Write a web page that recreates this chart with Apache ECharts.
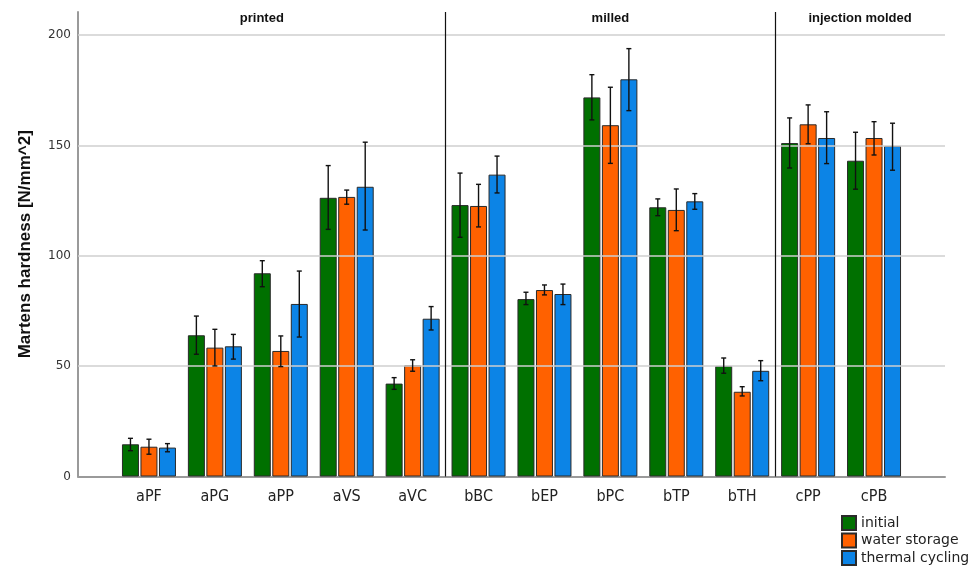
<!DOCTYPE html>
<html>
<head>
<meta charset="utf-8">
<script src="https://cdn.jsdelivr.net/npm/echarts@6/dist/echarts.min.js"></script>
<style>html,body{margin:0;padding:0;background:#fff}#c{width:970px;height:570px}</style>
</head>
<body>
<div id="c"></div>
<script>
var categories = ['aPF','aPG','aPP','aVS','aVC','bBC','bEP','bPC','bTP','bTH','cPP','cPB'];
var seriesNames = ['initial','water storage','thermal cycling'];
var initial     = [14.6, 64.0, 92.1, 126.3, 42.1, 123.0, 80.4, 171.8, 122.0, 50.1, 151.1, 143.1];
var initialLow  = [11.7, 55.4, 86.0, 112.0, 39.5, 108.4, 77.9, 161.6, 118.2, 46.8, 139.8, 130.2];
var initialHigh = [17.3, 72.7, 97.8, 140.9, 44.8, 137.5, 83.5, 182.1, 125.8, 53.7, 162.5, 156.0];
var water       = [13.5, 58.4, 56.9, 126.7, 50.4, 122.6, 84.5, 159.2, 120.8, 38.4, 159.6, 153.4];
var waterLow    = [10.1, 50.1, 49.8, 123.4, 47.7, 113.1, 82.3, 141.9, 111.4, 36.5, 150.8, 145.7];
var waterHigh   = [16.9, 66.7, 63.7, 129.8, 52.9, 132.4, 86.8, 176.4, 130.3, 40.7, 168.4, 160.8];
var thermal     = [13.1, 59.0, 78.2, 131.3, 71.5, 136.8, 82.7, 180.0, 124.7, 47.9, 153.4, 149.8];
var thermalLow  = [11.2, 53.2, 63.2, 111.7, 66.4, 128.5, 77.9, 165.8, 121.1, 43.4, 141.8, 138.8];
var thermalHigh = [14.9, 64.4, 93.1, 151.5, 77.0, 145.2, 87.2, 193.9, 128.2, 52.5, 165.3, 160.1];
var groupNames  = ['printed','milled','injection molded'];
var groupFirst  = [0, 5, 10];
var groupLast   = [4, 9, 11];
var yTicks      = [50, 100, 150, 200];

var colors = ['#007000', '#ff6100', '#0c84e6'];
var means = [initial, water, thermal];
var lows = [initialLow, waterLow, thermalLow];
var highs = [initialHigh, waterHigh, thermalHigh];

var yMax = 210.5;
var BAR_W = 17, BAR_GAP = 1.5;
var padBands = 38 / 65.92;
var xMin = -0.5 - padBands, xMax = categories.length - 0.5 + padBands;

var chart = echarts.init(document.getElementById('c'));

var series = [];
var bounds = [xMin];
for (var g = 1; g < groupNames.length; g++) bounds.push((groupLast[g-1] + groupFirst[g]) / 2);
bounds.push(xMax);
var mlData = yTicks.map(function (v) {
  return { yAxis: v, lineStyle: { color: '#cfcfcf', width: 1.5, type: 'solid' } };
});
for (var g = 1; g < groupNames.length; g++) {
  mlData.push({ xAxis: bounds[g], lineStyle: { color: '#111', width: 1.2, type: 'solid' } });
}
var maData = groupNames.map(function (n, i) {
  return [{ xAxis: bounds[i], name: n }, { xAxis: bounds[i+1] }];
});
series.push({
  type: 'line', xAxisIndex: 0, yAxisIndex: 0, data: [[xMin, 0]], symbol: 'none', silent: true, z: 0,
  lineStyle: { width: 0 },
  markLine: { silent: true, symbol: 'none', label: { show: false }, data: mlData, animation: false },
  markArea: {
    silent: true, itemStyle: { color: 'rgba(0,0,0,0)' },
    label: { show: true, position: 'insideTop', distance: 0, fontFamily: 'Liberation Sans, Arial, sans-serif',
      fontWeight: 'bold', fontSize: 13, color: '#111' },
    data: maData
  }
});
for (var s = 0; s < 3; s++) {
  series.push({
    name: seriesNames[s], type: 'bar', xAxisIndex: 1, yAxisIndex: 1,
    data: means[s], barWidth: BAR_W, barGap: (BAR_GAP / BAR_W * 100) + '%',
    itemStyle: { color: colors[s], borderColor: '#2a2a2a', borderWidth: 1 },
    z: 2
  });
}
var errData = [];
for (var s = 0; s < 3; s++) for (var i = 0; i < categories.length; i++) errData.push([i, lows[s][i], highs[s][i], s]);
series.push({
  type: 'custom', xAxisIndex: 1, yAxisIndex: 1, z: 5, silent: true,
  data: errData,
  renderItem: function (params, api) {
    var s = api.value(3);
    var off = (s - 1) * (BAR_W + BAR_GAP);
    var lo = api.coord([api.value(0), api.value(1)]);
    var hi = api.coord([api.value(0), api.value(2)]);
    var x = lo[0] + off;
    var cap = 2.5;
    var st = { stroke: '#111', lineWidth: 1.4 };
    return { type: 'group', children: [
      { type: 'line', shape: { x1: x, y1: lo[1], x2: x, y2: hi[1] }, style: st },
      { type: 'line', shape: { x1: x - cap, y1: lo[1], x2: x + cap, y2: lo[1] }, style: st },
      { type: 'line', shape: { x1: x - cap, y1: hi[1], x2: x + cap, y2: hi[1] }, style: st }
    ]};
  }
});

chart.setOption({
  animation: false,
  backgroundColor: '#fff',
  grid: [
    { left: 78, right: 25, top: 12, bottom: 93.5 },
    { left: 116, right: 63, top: 12, bottom: 93.5 }
  ],
  xAxis: [
    { type: 'value', gridIndex: 0, min: xMin, max: xMax,
      axisLine: { show: true, onZero: false, lineStyle: { color: '#9a9a9a', width: 2 } },
      axisTick: { show: false }, axisLabel: { show: false }, splitLine: { show: false } },
    { type: 'category', gridIndex: 1, data: categories,
      axisLine: { show: false }, axisTick: { show: false },
      axisLabel: { fontFamily: 'DejaVu Sans Condensed, DejaVu Sans, sans-serif', fontSize: 16, color: '#222', margin: 12 } }
  ],
  yAxis: [
    { type: 'value', gridIndex: 0, min: 0, max: yMax, interval: 50,
      name: 'Martens hardness [N/mm^2]', nameLocation: 'middle', nameGap: 44,
      nameTextStyle: { fontFamily: 'Liberation Sans, Arial, sans-serif', fontWeight: 'bold', fontSize: 17, color: '#111' },
      axisLine: { show: true, onZero: false, lineStyle: { color: '#9a9a9a', width: 2 } },
      axisTick: { show: false }, splitLine: { show: false },
      axisLabel: { showMaxLabel: false, fontFamily: 'DejaVu Sans, sans-serif', fontSize: 12, color: '#333', margin: 7 } },
    { type: 'value', gridIndex: 1, min: 0, max: yMax, interval: 50, show: false, splitLine: { show: false } }
  ],
  legend: {
    data: seriesNames, orient: 'vertical', left: 841, top: 515, padding: 0,
    itemWidth: 14, itemHeight: 14, itemGap: 1.5, icon: 'rect',
    textStyle: { fontFamily: 'DejaVu Sans, sans-serif', fontSize: 14, lineHeight: 14, color: '#222' }
  },
  series: series
});
</script>
</body>
</html>
